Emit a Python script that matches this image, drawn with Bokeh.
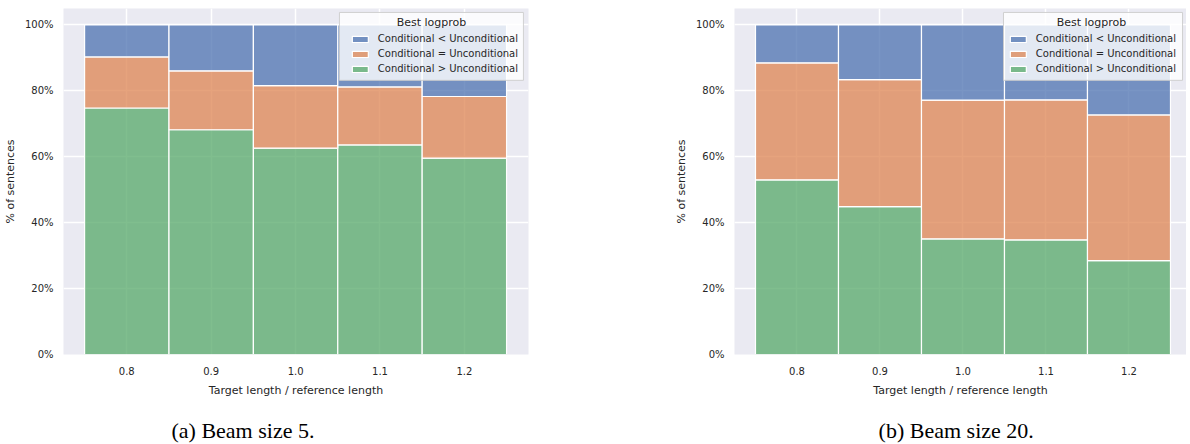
from bokeh.plotting import figure
from bokeh.models import (Legend, LegendItem, FixedTicker, PrintfTickFormatter,
                          CustomJSTickFormatter, Range1d, Label, ColumnDataSource,
                          BoxAnnotation)
from bokeh.layouts import row, column
from bokeh.embed import file_html
from bokeh.resources import INLINE

# ---- data (percent of sentences) ----
ratios = [0.8, 0.9, 1.0, 1.1, 1.2]          # target length / reference length
y_ticks = [0, 20, 40, 60, 80, 100]
series_names = ["Conditional < Unconditional",
                "Conditional = Unconditional",
                "Conditional > Unconditional"]
legend_title = "Best logprob"
captions = ["(a) Beam size 5.", "(b) Beam size 20."]

beam5_gt = [74.8, 68.2, 62.6, 63.6, 59.6]
beam5_eq = [15.5, 17.9, 19.0, 17.6, 18.7]
beam5_lt = [9.7, 13.9, 18.4, 18.8, 21.7]

beam20_gt = [53.0, 44.9, 35.1, 34.8, 28.5]
beam20_eq = [35.5, 38.5, 42.1, 42.5, 44.2]
beam20_lt = [11.5, 16.6, 22.8, 22.7, 27.3]

# ---- style ----
BLUE, ORANGE, GREEN = "#4C72B0", "#DD8452", "#55A868"
BG = "#EAEAF2"
TXT = "#262626"
FONT = "DejaVu Sans"


def make_panel(gt, eq, lt, frame_w, x_start, x_end, border_right, title_x, box_lr):
    p = figure(frame_width=frame_w, frame_height=346, output_backend="svg",
               toolbar_location=None,
               x_range=Range1d(x_start, x_end), y_range=Range1d(0, 105),
               min_border_left=57, min_border_right=border_right,
               min_border_top=8, min_border_bottom=46)
    p.background_fill_color = BG
    p.border_fill_color = "white"
    p.outline_line_color = None

    g_top = list(gt)
    e_top = [a + b for a, b in zip(gt, eq)]
    l_top = [a + b + c for a, b, c in zip(gt, eq, lt)]
    src = ColumnDataSource(dict(x=ratios, zero=[0] * len(ratios),
                                g_top=g_top, e_top=e_top, l_top=l_top))
    common = dict(width=0.1, fill_alpha=0.75, line_color="white", line_width=1.2)
    r_g = p.vbar(x="x", bottom="zero", top="g_top", fill_color=GREEN, source=src, **common)
    r_e = p.vbar(x="x", bottom="g_top", top="e_top", fill_color=ORANGE, source=src, **common)
    r_l = p.vbar(x="x", bottom="e_top", top="l_top", fill_color=BLUE, source=src, **common)

    # axes
    p.xaxis.ticker = FixedTicker(ticks=ratios)
    p.xaxis.formatter = PrintfTickFormatter(format="%.1f")
    p.yaxis.ticker = FixedTicker(ticks=y_ticks)
    p.yaxis.formatter = CustomJSTickFormatter(code="return Math.round(tick) + '%';")
    p.xaxis.axis_label = "Target length / reference length"
    p.yaxis.axis_label = "% of sentences"
    for ax in (p.xaxis, p.yaxis):
        ax.axis_line_color = None
        ax.major_tick_line_color = None
        ax.minor_tick_line_color = None
        ax.major_tick_out = 0
        ax.major_tick_in = 0
        ax.minor_tick_out = 0
        ax.minor_tick_in = 0
        ax.major_label_text_font = FONT
        ax.major_label_text_font_size = "10px"
        ax.major_label_text_color = TXT
        ax.axis_label_text_font = FONT
        ax.axis_label_text_font_size = "11px"
        ax.axis_label_text_font_style = "normal"
        ax.axis_label_text_color = TXT
    p.xaxis.major_label_standoff = 12
    p.xaxis.axis_label_standoff = 6
    p.yaxis.major_label_standoff = 10
    p.yaxis.axis_label_standoff = 5

    p.xgrid.ticker = FixedTicker(ticks=ratios)
    p.ygrid.ticker = FixedTicker(ticks=y_ticks)
    p.grid.grid_line_color = "white"
    p.grid.grid_line_width = 1.5

    # legend frame (drawn as a box so that the centred title can sit on top of it)
    p.add_layout(BoxAnnotation(left=box_lr[0], right=box_lr[1], top=103.8, bottom=83.2,
                               fill_color="white", fill_alpha=0.8,
                               line_color="#cccccc", line_alpha=0.9, line_width=1))
    p.add_layout(Label(x=title_x, y=100.8, text=legend_title, text_align="center",
                       text_baseline="middle", text_font=FONT, text_font_size="11px",
                       text_color=TXT))

    legend = Legend(items=[LegendItem(label=series_names[0], renderers=[r_l]),
                           LegendItem(label=series_names[1], renderers=[r_e]),
                           LegendItem(label=series_names[2], renderers=[r_g])],
                    location="top_right", title=" ")
    legend.margin = 10
    legend.padding = 5
    legend.spacing = 0
    legend.glyph_width = 20
    legend.glyph_height = 8
    legend.label_height = 15
    legend.label_standoff = 8
    legend.title_standoff = 0
    legend.label_text_font = FONT
    legend.label_text_font_size = "10px"
    legend.label_text_color = TXT
    legend.title_text_font = FONT
    legend.title_text_font_size = "11px"
    legend.background_fill_alpha = 0
    legend.border_line_color = None
    p.add_layout(legend)
    return p


def make_caption(text, width, center_x):
    c = figure(width=width, height=44, output_backend="svg", toolbar_location=None,
               x_range=Range1d(0, width), y_range=Range1d(0, 44),
               x_axis_location=None, y_axis_location=None, min_border=0)
    c.grid.visible = False
    c.outline_line_color = None
    c.background_fill_color = "white"
    c.border_fill_color = "white"
    c.add_layout(Label(x=center_x, y=14, text=text, text_align="center",
                       text_baseline="middle", text_font="Liberation Serif",
                       text_font_size="22px", text_color="black"))
    return c


p1 = make_panel(beam5_gt, beam5_eq, beam5_lt, 465, 0.725, 1.276, 143, 1.161,
                (1.052, 1.270))
p2 = make_panel(beam20_gt, beam20_eq, beam20_lt, 452, 0.7247, 1.2693, 0, 1.1548,
                (1.0488, 1.2645))
c1 = make_caption(captions[0], 665, 260)
c2 = make_caption(captions[1], 509, 253)

layout = row(column(p1, c1), column(p2, c2))
open("out.html", "w").write(file_html(layout, INLINE))
